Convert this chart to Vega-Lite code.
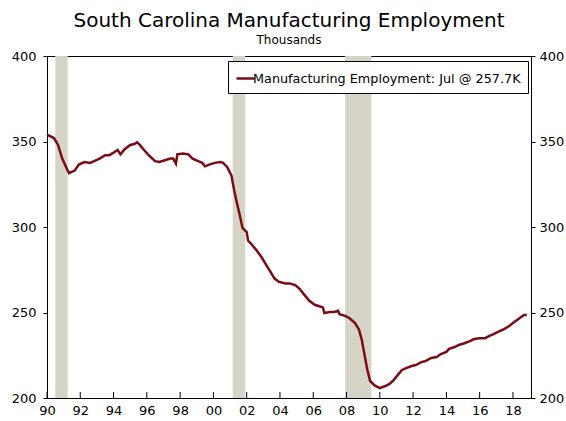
{
  "$schema": "https://vega.github.io/schema/vega-lite/v6.json",
  "width": 484,
  "height": 342,
  "autosize": {"type": "none"},
  "padding": {"left": 47, "top": 56, "right": 35, "bottom": 23},
  "background": "white",
  "config": {
    "font": "DejaVu Sans",
    "view": {"stroke": "black", "strokeWidth": 1},
    "axis": {"grid": false, "domainColor": "black", "tickColor": "black", "labelColor": "black", "labelFont": "DejaVu Sans", "labelFontSize": 13, "title": null},
    "axisX": {"labelOverlap": false}
  },
  "title": {
    "text": "South Carolina Manufacturing Employment",
    "subtitle": "Thousands",
    "fontSize": 20,
    "fontWeight": "normal",
    "subtitleFontSize": 12,
    "subtitlePadding": 4,
    "font": "DejaVu Sans",
    "subtitleFont": "DejaVu Sans",
    "color": "black",
    "subtitleColor": "black",
    "anchor": "middle",
    "offset": 4
  },
  "datasets": {
    "rec": [
      {"date": "1990-07-01", "end": "1991-03-31"},
      {"date": "2001-03-01", "end": "2001-11-30"},
      {"date": "2007-12-01", "end": "2009-06-30"}
    ],
    "ticks": [
      {"date": "1990-01-01"}, {"date": "1992-01-01"}, {"date": "1994-01-01"}, {"date": "1996-01-01"},
      {"date": "1998-01-01"}, {"date": "2000-01-01"}, {"date": "2002-01-01"}, {"date": "2004-01-01"},
      {"date": "2006-01-01"}, {"date": "2008-01-01"}, {"date": "2010-01-01"}, {"date": "2012-01-01"},
      {"date": "2014-01-01"}, {"date": "2016-01-01"}, {"date": "2018-01-01"}
    ],
    "emp": [
      {"date": "1990-01-01", "v": 354},
      {"date": "1990-06-01", "v": 352},
      {"date": "1990-09-01", "v": 348},
      {"date": "1990-12-01", "v": 340},
      {"date": "1991-04-01", "v": 333},
      {"date": "1991-05-01", "v": 331.5},
      {"date": "1991-09-01", "v": 333},
      {"date": "1991-12-01", "v": 336.5},
      {"date": "1992-04-01", "v": 338},
      {"date": "1992-08-01", "v": 337.5},
      {"date": "1992-11-01", "v": 338.5},
      {"date": "1993-03-01", "v": 340},
      {"date": "1993-07-01", "v": 342},
      {"date": "1993-10-01", "v": 342},
      {"date": "1994-02-01", "v": 344},
      {"date": "1994-04-01", "v": 345},
      {"date": "1994-06-01", "v": 342.5},
      {"date": "1994-09-01", "v": 345.5},
      {"date": "1995-01-01", "v": 348},
      {"date": "1995-04-01", "v": 348.5},
      {"date": "1995-06-01", "v": 349.5},
      {"date": "1995-08-01", "v": 348},
      {"date": "1995-11-01", "v": 345},
      {"date": "1996-03-01", "v": 341.5},
      {"date": "1996-07-01", "v": 338.5},
      {"date": "1996-10-01", "v": 338},
      {"date": "1997-02-01", "v": 339},
      {"date": "1997-06-01", "v": 340},
      {"date": "1997-08-01", "v": 340},
      {"date": "1997-10-01", "v": 337},
      {"date": "1997-11-01", "v": 342.5},
      {"date": "1998-03-01", "v": 343},
      {"date": "1998-07-01", "v": 342.5},
      {"date": "1998-10-01", "v": 340},
      {"date": "1999-02-01", "v": 338.5},
      {"date": "1999-05-01", "v": 337.5},
      {"date": "1999-07-01", "v": 335.5},
      {"date": "1999-10-01", "v": 336.5},
      {"date": "2000-02-01", "v": 337.5},
      {"date": "2000-06-01", "v": 338},
      {"date": "2000-08-01", "v": 337.5},
      {"date": "2000-11-01", "v": 335},
      {"date": "2001-02-01", "v": 330},
      {"date": "2001-04-01", "v": 321.5},
      {"date": "2001-06-01", "v": 314},
      {"date": "2001-08-01", "v": 307},
      {"date": "2001-10-01", "v": 299.5},
      {"date": "2002-01-01", "v": 297},
      {"date": "2002-02-01", "v": 292},
      {"date": "2002-05-01", "v": 289.5},
      {"date": "2002-08-01", "v": 286.5},
      {"date": "2002-12-01", "v": 282},
      {"date": "2003-03-01", "v": 278},
      {"date": "2003-06-01", "v": 274},
      {"date": "2003-09-01", "v": 270},
      {"date": "2003-12-01", "v": 268},
      {"date": "2004-05-01", "v": 267},
      {"date": "2004-08-01", "v": 267},
      {"date": "2004-12-01", "v": 266},
      {"date": "2005-03-01", "v": 264},
      {"date": "2005-07-01", "v": 260},
      {"date": "2005-10-01", "v": 257},
      {"date": "2006-02-01", "v": 254.5},
      {"date": "2006-06-01", "v": 253.5},
      {"date": "2006-08-01", "v": 253},
      {"date": "2006-09-01", "v": 249.7},
      {"date": "2007-01-01", "v": 250.3},
      {"date": "2007-04-01", "v": 250.3},
      {"date": "2007-07-01", "v": 251},
      {"date": "2007-08-01", "v": 249},
      {"date": "2007-12-01", "v": 248},
      {"date": "2008-03-01", "v": 246.8},
      {"date": "2008-07-01", "v": 244},
      {"date": "2008-10-01", "v": 240},
      {"date": "2008-12-01", "v": 234},
      {"date": "2009-02-01", "v": 225},
      {"date": "2009-04-01", "v": 216.5},
      {"date": "2009-06-01", "v": 210},
      {"date": "2009-09-01", "v": 207.5},
      {"date": "2010-01-01", "v": 205.8},
      {"date": "2010-05-01", "v": 207},
      {"date": "2010-08-01", "v": 208.2},
      {"date": "2010-11-01", "v": 210.5},
      {"date": "2011-02-01", "v": 213.5},
      {"date": "2011-05-01", "v": 216.4},
      {"date": "2011-08-01", "v": 217.5},
      {"date": "2011-12-01", "v": 218.7},
      {"date": "2012-03-01", "v": 219.3},
      {"date": "2012-07-01", "v": 221},
      {"date": "2012-10-01", "v": 221.6},
      {"date": "2013-02-01", "v": 223.4},
      {"date": "2013-06-01", "v": 224},
      {"date": "2013-09-01", "v": 225.7},
      {"date": "2014-01-01", "v": 227},
      {"date": "2014-03-01", "v": 228.7},
      {"date": "2014-07-01", "v": 229.8},
      {"date": "2014-10-01", "v": 231},
      {"date": "2015-02-01", "v": 232},
      {"date": "2015-06-01", "v": 233.3},
      {"date": "2015-09-01", "v": 234.5},
      {"date": "2016-01-01", "v": 235},
      {"date": "2016-05-01", "v": 235},
      {"date": "2016-08-01", "v": 236.3},
      {"date": "2016-11-01", "v": 237.4},
      {"date": "2017-03-01", "v": 239},
      {"date": "2017-07-01", "v": 240.4},
      {"date": "2017-10-01", "v": 242},
      {"date": "2018-02-01", "v": 244.4},
      {"date": "2018-06-01", "v": 246.8},
      {"date": "2018-09-01", "v": 248.5},
      {"date": "2018-11-01", "v": 248.5}
    ]
  },
  "encoding": {
    "x": {"field": "date", "type": "temporal",
      "scale": {"domain": [{"year": 1990, "month": 1, "date": 1}, {"year": 2019, "month": 2, "date": 1}]},
      "axis": {"format": "%y", "values": [{"year": 1990}, {"year": 1992}, {"year": 1994}, {"year": 1996}, {"year": 1998}, {"year": 2000}, {"year": 2002}, {"year": 2004}, {"year": 2006}, {"year": 2008}, {"year": 2010}, {"year": 2012}, {"year": 2014}, {"year": 2016}, {"year": 2018}],
        "ticks": false, "labelPadding": 6, "labelFlush": false, "labelOverlap": false, "zindex": 1}}
  },
  "layer": [
    {
      "data": {"name": "rec"},
      "mark": {"type": "rect", "color": "#D6D3C7"},
      "encoding": {
        "x2": {"field": "end"}
      }
    },
    {
      "data": {"name": "ticks"},
      "mark": {"type": "rule", "color": "black", "strokeWidth": 1},
      "encoding": {
        "y": {"datum": 200, "type": "quantitative", "axis": null},
        "y2": {"datum": 203.5}
      }
    },
    {
      "data": {"name": "emp"},
      "mark": {"type": "line", "strokeWidth": 2.5},
      "encoding": {
        "y": {"field": "v", "type": "quantitative", "scale": {"domain": [200, 400], "nice": false, "zero": false},
          "axis": {"orient": "left", "values": [200, 250, 300, 350, 400], "tickSize": 4, "labelPadding": 7}},
        "color": {"datum": "Manufacturing Employment: Jul @ 257.7K", "type": "nominal",
          "scale": {"range": ["#7A0C16"]},
          "legend": {"title": null, "orient": "none", "legendX": 181, "legendY": 5, "strokeColor": "black", "fillColor": "white", "padding": 7, "labelFontSize": 12.8, "labelFont": "DejaVu Sans", "labelColor": "black", "labelLimit": 0, "symbolType": "stroke", "symbolStrokeWidth": 2.5, "symbolSize": 324, "labelOffset": -3}}
      }
    },
    {
      "data": {"name": "emp"},
      "mark": {"type": "line", "opacity": 0},
      "encoding": {
        "y": {"field": "v", "type": "quantitative",
          "axis": {"orient": "right", "values": [200, 250, 300, 350, 400], "tickSize": 4, "labelPadding": 4}}
      }
    }
  ],
  "resolve": {"axis": {"y": "independent"}}
}
